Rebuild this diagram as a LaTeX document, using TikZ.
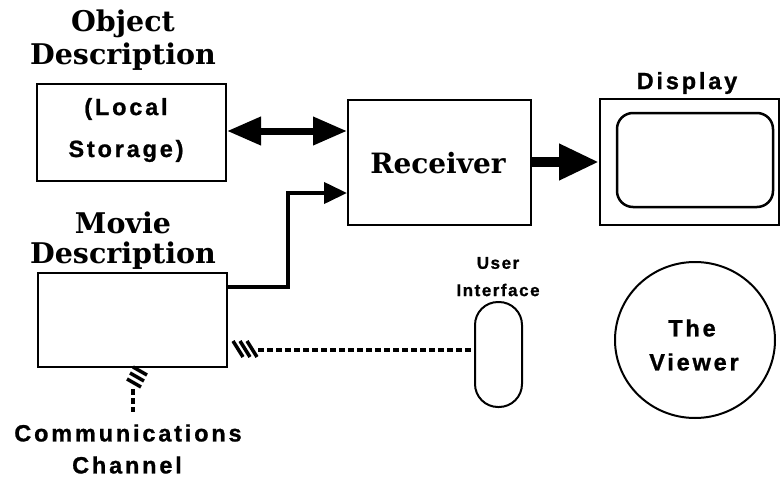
\documentclass[tikz,border=0pt]{standalone}
\usepackage{fontspec}
\setmainfont{DejaVu Serif}
\newfontfamily\labfont{Liberation Sans Bold}[LetterSpace=12,FakeBold=1]
\newfontfamily\smalllabfont{Liberation Sans Bold}[LetterSpace=9,FakeBold=1]
\usetikzlibrary{arrows.meta,shapes.geometric,calc}
\tikzset{
  box/.style={draw, line width=2pt, rectangle, inner sep=0pt},
  title/.style={font=\bfseries\fontsize{28.5}{30}\selectfont, inner sep=0pt, anchor=center},
  lab/.style={font=\labfont\fontsize{23.5}{25}\selectfont, inner sep=0pt, anchor=center},
  smalllab/.style={font=\smalllabfont\fontsize{17}{19}\selectfont, inner sep=0pt, anchor=center},
  dashlink/.style={line width=3.5pt, dash pattern=on 6pt off 3pt},
  hatchstroke/.style={line width=3.5pt},
}
\begin{document}
\begin{tikzpicture}[x=1pt,y=-1pt]
\useasboundingbox (0,0) rectangle (780,477);
% boxes
\node[box, minimum width=189pt, minimum height=97pt] (obox) at (131.5,132.5) {};
\node[box, minimum width=189pt, minimum height=94pt] (mbox) at (132.5,320) {};
\node[box, minimum width=183pt, minimum height=125pt] (recv) at (439.5,162.5) {};
\node[box, minimum width=179pt, minimum height=126pt] (disp) at (689.5,161.5) {};
\node[draw, line width=2.5pt, rounded corners=16pt, minimum width=156pt, minimum height=94pt, inner sep=0pt] (screen) at (695,160) {};
\node[draw, line width=2pt, rounded corners=23pt, minimum width=47pt, minimum height=105pt, inner sep=0pt] (ui) at (498.5,354.5) {};
\node[draw, line width=2pt, ellipse, minimum width=160pt, minimum height=156pt, inner sep=0pt] (viewer) at (695,340) {};
% titles
\node[title] (t1) at (123,24) {Object};
\node[title] (t2) at (123,57) {Description};
\node[title] (t3) at (123,223) {Movie};
\node[title] (t4) at (123,256) {Description};
\node[font=\bfseries\fontsize{28}{30}\selectfont, inner sep=0pt] (rt) at (438,163) {Receiver};
% labels
\node[lab] (l1) at (126,109) {(Local};
\node[lab] (l2) at (126,151) {Storage)};
\node[lab] (l3) at (687,83) {Display};
\node[smalllab] (l4) at (498,263) {User};
\node[smalllab] (l5) at (498,290) {Interface};
\node[lab] (l6) at (692,328) {The};
\node[lab] (l7) at (694,362) {Viewer};
\node[lab] (l8) at (128,433) {Communications};
\node[lab] (l9) at (127,465) {Channel};
% arrows
\draw[line width=7pt, {Triangle[length=34pt,width=27pt]}-{Triangle[length=34pt,width=27pt]}] (obox.east |- 0,131) -- (recv.west |- 0,131);
\draw[line width=10pt, -{Triangle[length=40pt,width=34pt]}] (recv.east |- 0,162) -- (disp.west |- 0,162);
\coordinate (m1) at (227,287);
\coordinate (m2) at (288,287);
\coordinate (m3) at (288,193);
\draw[line width=4pt, -{Triangle[length=23pt,width=21pt]}] (mbox.east |- m1) -- (m2) -- (m3) -- (recv.west |- m3);
% channel to user interface
\coordinate (h1) at (245,349);
\foreach \i in {0,1,2} {
  \draw[hatchstroke] ($(h1)+(-7+7*\i,0)+(-5,-8)$) -- ($(h1)+(-7+7*\i,0)+(5,8)$);
}
\coordinate (h1e) at (258,350);
\draw[dashlink] (h1e) -- (ui.west |- h1e);
% communications channel
\coordinate (h2) at (137,377);
\foreach \i in {0,1,2} {
  \draw[hatchstroke] ($(h2)+(3-3*\i,-6+6*\i)+(-7,-4)$) -- ($(h2)+(3-3*\i,-6+6*\i)+(7,4)$);
}
\coordinate (h2e) at (133,389);
\coordinate (h2f) at (133,412);
\draw[dashlink] (h2e) -- (h2f);
\end{tikzpicture}
\end{document}
